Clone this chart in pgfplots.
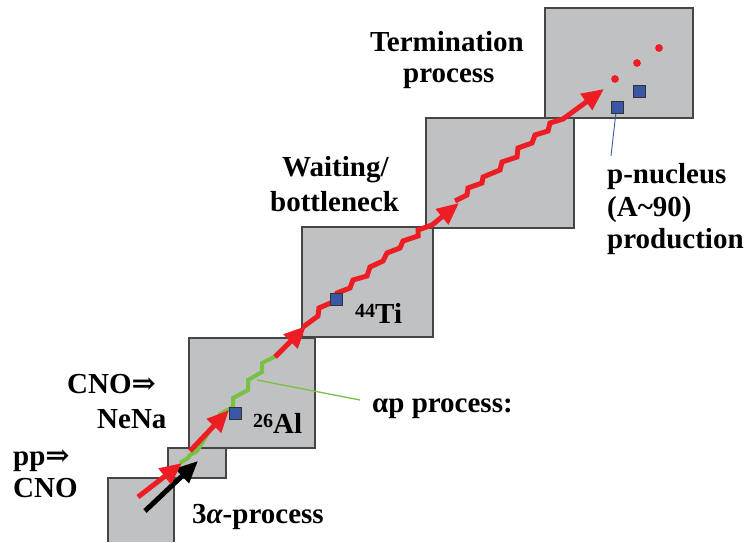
\documentclass[border=0pt]{standalone}
\usepackage{pgfplots}
\pgfplotsset{compat=1.18}
\usetikzlibrary{arrows.meta}
\usepackage{fontspec}
\setmainfont{Liberation Serif}
\newfontfamily\sym{DejaVu Serif}
\definecolor{boxgray}{HTML}{C0C1C3}
\definecolor{boxedge}{HTML}{454545}
\definecolor{rred}{HTML}{EE1D23}
\definecolor{ggreen}{HTML}{79C143}
\definecolor{bblue}{HTML}{3A57A7}
\newcommand{\bigtxt}{\fontsize{29}{33}\selectfont\bfseries}
\newcommand{\sups}[1]{\raisebox{0.55em}{\fontsize{20}{20}\selectfont\bfseries #1}}
\begin{document}
\begin{tikzpicture}
\begin{axis}[width=755pt,height=542pt,scale only axis,
  xmin=0,xmax=755,ymin=0,ymax=542,y dir=reverse,hide axis,clip=false]
\path (rel axis cs:0,0) rectangle (rel axis cs:1,1);
% boxes
\addplot[fill=boxgray,draw=none] coordinates {(108,478)(174,478)(174,542)(108,542)} -- cycle;
\addplot[draw=boxedge,line width=1.3pt] coordinates {(108,542)(108,478)(174,478)(174,542)};
\addplot[fill=boxgray,draw=boxedge,line width=1.3pt] coordinates {(168,448)(226,448)(226,478)(168,478)} -- cycle;
\addplot[fill=boxgray,draw=boxedge,line width=1.3pt] coordinates {(189,338)(315,338)(315,448)(189,448)} -- cycle;
\addplot[fill=boxgray,draw=boxedge,line width=1.3pt] coordinates {(302,227)(433,227)(433,337)(302,337)} -- cycle;
\addplot[fill=boxgray,draw=boxedge,line width=1.3pt] coordinates {(426,118)(574,118)(574,228)(426,228)} -- cycle;
\addplot[fill=boxgray,draw=boxedge,line width=1.3pt] coordinates {(545,8)(693,8)(693,118)(545,118)} -- cycle;
% green alpha-p path
\addplot[ggreen,line width=4pt,line join=miter] coordinates {(180,463)(188,458)(190,455)(197,451)(220,414)(233,407)(233,398)(248,390)(248,380)(262,372)(262,363)(276,356)};
% black arrow
\addplot[black,line width=5pt,-{Triangle[length=22pt,width=19pt]}] coordinates {(145,511)(198,461)};
% red arrows
\addplot[rred,line width=5pt,-{Triangle[length=22pt,width=19pt]}] coordinates {(138,497)(182,463)};
\addplot[rred,line width=5pt,-{Triangle[length=22pt,width=19pt]}] coordinates {(190,451)(229,410)};
\addplot[rred,line width=5pt,-{Triangle[length=22pt,width=19pt]}] coordinates {(275,357)(306,326)};
\addplot[rred,line width=5pt,line join=miter,-{Triangle[length=22pt,width=19pt]}] coordinates {(303,327)(318,316)(319,308)(333,302)(337,293)(350,288)(353,280)(367,276)(370,267)(383,261)(387,253)(400,248)(403,241)(418,236)(418,230)(432,225)(459,203)};
\addplot[rred,line width=5pt,line join=miter,-{Triangle[length=22pt,width=19pt]}] coordinates {(455,201)(467,195)(468,188)(482,183)(483,177)(500,170)(502,162)(517,157)(518,148)(532,143)(535,135)(548,131)(550,123)(563,119)(604,89)};
% red dots
\addplot[only marks,mark=*,mark size=3.6pt,color=rred] coordinates {(615,79)(637,63)(659,48)};
% pointer lines
\addplot[ggreen,line width=1.3pt] coordinates {(257,380)(360,400)};
\addplot[bblue,line width=0.9pt] coordinates {(616,112)(611,156)};
% blue squares
\addplot[only marks,mark=square*,mark size=6pt,mark options={fill=bblue,draw=black!80,line width=0.8pt}] coordinates {(235,413)(336,299)(617,107)(639,91)};
% texts
\node[anchor=base west,inner sep=0pt] at (axis cs:370,52) {\bigtxt Termination};
\node[anchor=base west,inner sep=0pt] at (axis cs:403,83) {\bigtxt process};
\node[anchor=base west,inner sep=0pt] at (axis cs:282,177) {\bigtxt Waiting/};
\node[anchor=base west,inner sep=0pt] at (axis cs:270,212) {\bigtxt bottleneck};
\node[anchor=base west,inner sep=0pt] at (axis cs:607,184) {\bigtxt p-nucleus};
\node[anchor=base west,inner sep=0pt] at (axis cs:607,217) {\bigtxt (A\textasciitilde90)};
\node[anchor=base west,inner sep=0pt] at (axis cs:607,248) {\bigtxt production};
\node[anchor=base west,inner sep=0pt] at (axis cs:355,323) {\sups{44}\bigtxt Ti};
\node[anchor=base west,inner sep=0pt] at (axis cs:253,433) {\sups{26}\bigtxt Al};
\node[anchor=base west,inner sep=0pt] at (axis cs:372,412) {\bigtxt αp process:};
\node[anchor=base west,inner sep=0pt] at (axis cs:67,393) {\bigtxt CNO{\sym ⇒}};
\node[anchor=base west,inner sep=0pt] at (axis cs:97,428) {\bigtxt NeNa};
\node[anchor=base west,inner sep=0pt] at (axis cs:13,465) {\bigtxt pp{\sym ⇒}};
\node[anchor=base west,inner sep=0pt] at (axis cs:13,497) {\bigtxt CNO};
\node[anchor=base west,inner sep=0pt] at (axis cs:192,523) {\bigtxt 3{\itshape α}-process};
\end{axis}
\end{tikzpicture}
\end{document}
